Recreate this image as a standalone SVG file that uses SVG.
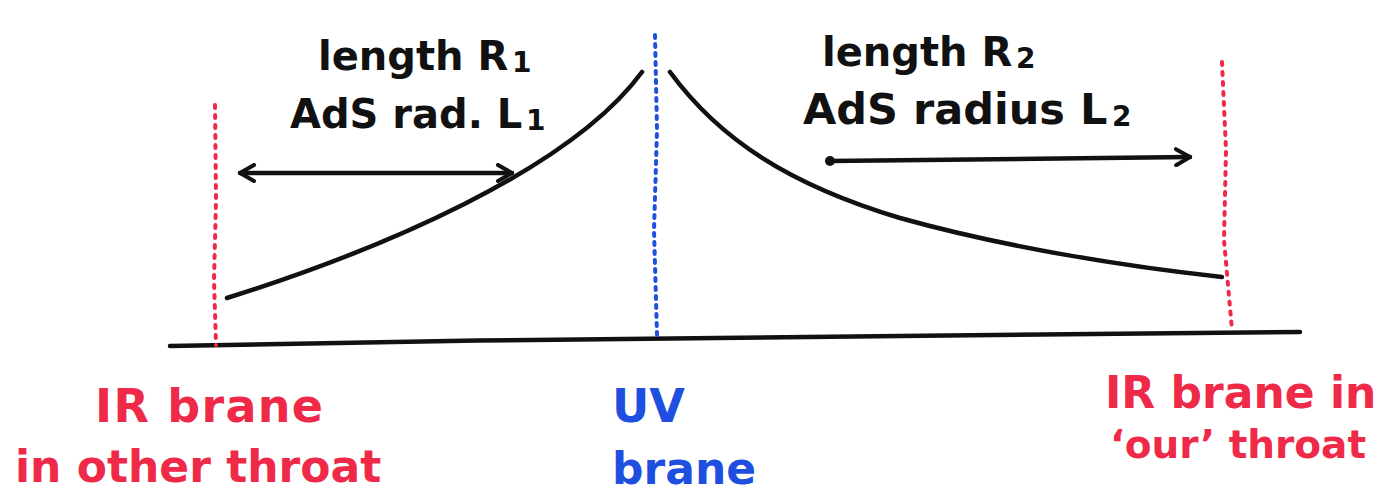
<svg xmlns="http://www.w3.org/2000/svg" width="1395" height="494" viewBox="0 0 1395 494">
<defs>
<marker id="ah" viewBox="0 0 20 20" refX="17" refY="10" markerWidth="20" markerHeight="20" markerUnits="userSpaceOnUse" orient="auto-start-reverse">
<path d="M3,2 L17,10 L3,18" fill="none" stroke="#111" stroke-width="4" stroke-linecap="round" stroke-linejoin="round"/>
</marker>
<style>
.ink{fill:none;stroke:#111;stroke-width:4.5;stroke-linecap:round;stroke-linejoin:round}
.red{fill:none;stroke:#ee2a48;stroke-width:4;stroke-linecap:round;stroke-dasharray:3 7}
.blue{fill:none;stroke:#1f4fe0;stroke-width:4;stroke-linecap:round;stroke-dasharray:3 6}
.t{font-family:"DejaVu Sans","Liberation Sans",sans-serif;font-weight:bold}
.s{font-family:"DejaVu Sans","Liberation Sans",sans-serif;font-size:28px;font-weight:bold}
.tk{fill:#111}
.tr{fill:#ee2a48}
.tb{fill:#1f4fe0}
</style>
</defs>
<rect width="1395" height="494" fill="#fff"/>
<g id="axis">
<path class="ink" d="M170,346 C400,341 700,337 900,336 C1100,335 1200,333 1300,332" stroke-width="5"/>
</g>
<g id="ir-left-brane">
<path class="red" d="M215,105 L216,200 L214,280 L216,345"/>
</g>
<g id="uv-brane">
<path class="blue" d="M655,35 L657,130 L654,230 L657,335"/>
</g>
<g id="ir-right-brane">
<path class="red" d="M1222,62 L1226,150 L1224,240 L1232,330"/>
</g>
<g id="connectors">
<path class="ink" d="M227,298 C380,250 570,170 642,72"/>
<path class="ink" d="M670,72 C720,140 790,185 900,218 C1000,246 1120,266 1222,277"/>
<path class="ink" d="M240,173 L512,173" marker-start="url(#ah)" marker-end="url(#ah)"/>
<path class="ink" d="M830,161 L1190,157" marker-end="url(#ah)"/>
<circle cx="830" cy="161" r="5" fill="#111"/>
</g>
<g id="label-left">
<text class="t tk" x="318" y="70" font-size="40">length R</text>
<text class="s tk" x="512" y="72">1</text>
<text class="t tk" x="290" y="128" font-size="40">AdS rad. L</text>
<text class="s tk" x="526" y="130">1</text>
</g>
<g id="label-right">
<text class="t tk" x="822" y="66" font-size="40">length R</text>
<text class="s tk" x="1016" y="68">2</text>
<text class="t tk" x="803" y="124" font-size="43">AdS radius L</text>
<text class="s tk" x="1112" y="126" font-size="32">2</text>
</g>
<g id="label-ir-left">
<text class="t tr" x="95" y="422" font-size="46" textLength="228" lengthAdjust="spacing">IR brane</text>
<text class="t tr" x="15" y="482" font-size="44">in other throat</text>
</g>
<g id="label-uv">
<text class="t tb" x="612" y="422" font-size="46">UV</text>
<text class="t tb" x="612" y="484" font-size="44">brane</text>
</g>
<g id="label-ir-right">
<text class="t tr" x="1105" y="408" font-size="44">IR brane in</text>
<text class="t tr" x="1110" y="458" font-size="39">‘our’ throat</text>
</g>
</svg>
